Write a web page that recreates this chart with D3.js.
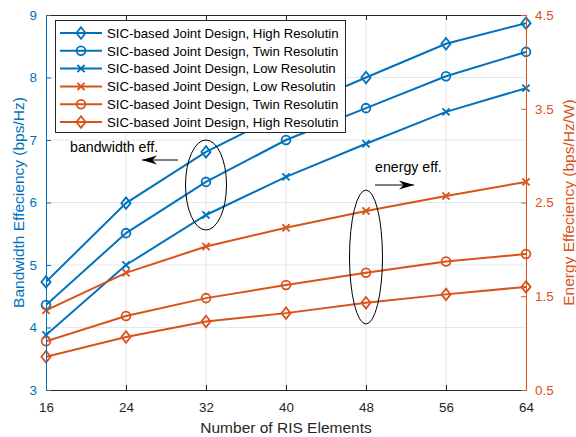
<!DOCTYPE html>
<html>
<head>
<meta charset="utf-8">
<script src="https://cdn.jsdelivr.net/npm/d3@7/dist/d3.min.js"></script>
<style>
  html, body { margin: 0; padding: 0; background: #fff; }
  svg { display: block; font-family: "Liberation Sans", Arial, Helvetica, sans-serif; }
</style>
</head>
<body>
<svg id="chart" width="576" height="437"></svg>
<script>
// Number of RIS elements
const elements = [16, 24, 32, 40, 48, 56, 64];

// Bandwidth efficiency (bps/Hz), left axis
const bwHigh = [4.73, 5.99, 6.81, 7.45, 8.00, 8.54, 8.87];
const bwTwin = [4.36, 5.51, 6.33, 7.00, 7.51, 8.02, 8.41];
const bwLow  = [3.88, 5.00, 5.80, 6.41, 6.94, 7.45, 7.83];

// Energy efficiency (bps/Hz/W), right axis
const eeLow  = [1.35, 1.75, 2.03, 2.23, 2.41, 2.57, 2.72];
const eeTwin = [1.02, 1.29, 1.48, 1.62, 1.75, 1.87, 1.95];
const eeHigh = [0.855, 1.065, 1.23, 1.32, 1.43, 1.52, 1.60];

const xTicks = [16, 24, 32, 40, 48, 56, 64];
const leftTicks = [3, 4, 5, 6, 7, 8, 9];
const rightTicks = [0.5, 1.5, 2.5, 3.5, 4.5];

const BLUE = "#0072BD", ORANGE = "#D95319", AXIS = "#262626";

const series = [
  { name: "SIC-based Joint Design, High Resolutin", values: bwHigh, axis: "left",  color: BLUE,   marker: "diamond" },
  { name: "SIC-based Joint Design, Twin Resolutin", values: bwTwin, axis: "left",  color: BLUE,   marker: "circle" },
  { name: "SIC-based Joint Design, Low Resolutin",  values: bwLow,  axis: "left",  color: BLUE,   marker: "cross" },
  { name: "SIC-based Joint Design, Low Resolutin",  values: eeLow,  axis: "right", color: ORANGE, marker: "cross" },
  { name: "SIC-based Joint Design, Twin Resolutin", values: eeTwin, axis: "right", color: ORANGE, marker: "circle" },
  { name: "SIC-based Joint Design, High Resolutin", values: eeHigh, axis: "right", color: ORANGE, marker: "diamond" }
];

const L = 46, R = 526, T = 15, B = 390;
const svg = d3.select("#chart");

const x = d3.scaleLinear().domain([16, 64]).range([L, R]);
const yL = d3.scaleLinear().domain([3, 9]).range([B, T]);
const yR = d3.scaleLinear().domain([0.5, 4.5]).range([B, T]);

// grid
const grid = svg.append("g");
grid.selectAll("line.v").data(xTicks.slice(1, -1)).join("line")
  .attr("x1", d => x(d)).attr("x2", d => x(d)).attr("y1", T).attr("y2", B)
  .attr("stroke", "#e3e3e3").attr("stroke-width", 1);
grid.selectAll("line.h").data(leftTicks.slice(1, -1)).join("line")
  .attr("x1", L).attr("x2", R).attr("y1", d => yL(d)).attr("y2", d => yL(d))
  .attr("stroke", "#dde9f4").attr("stroke-width", 1);

// markers
function markerPath(type) {
  if (type === "diamond") return "M0,-5.8L4.6,0L0,5.8L-4.6,0Z";
  if (type === "cross") return "M-3.6,-3.6L3.6,3.6M-3.6,3.6L3.6,-3.6";
  return d3.symbol(d3.symbolCircle, 60)();
}

svg.append("defs").append("clipPath").attr("id", "plot")
  .append("rect").attr("x", L).attr("y", T).attr("width", R - L).attr("height", B - T);

const plot = svg.append("g").attr("clip-path", "url(#plot)");
series.forEach(s => {
  const y = s.axis === "left" ? yL : yR;
  const line = d3.line().x((d, i) => x(elements[i])).y(d => y(d));
  plot.append("path").datum(s.values).attr("d", line)
    .attr("fill", "none").attr("stroke", s.color).attr("stroke-width", 2);
});
series.forEach(s => {
  const y = s.axis === "left" ? yL : yR;
  svg.append("g").selectAll("path").data(s.values).join("path")
    .attr("transform", (d, i) => `translate(${x(elements[i])},${y(d)})`)
    .attr("d", markerPath(s.marker))
    .attr("fill", "none").attr("stroke", s.color).attr("stroke-width", 1.8);
});

// axes
const fs = 13.4;
const xAxis = d3.axisBottom(x).tickValues(xTicks).tickSize(-5).tickPadding(12).tickFormat(d3.format("d"));
const gx = svg.append("g").attr("transform", `translate(0,${B})`).call(xAxis);
gx.select(".domain").attr("stroke", AXIS);
gx.selectAll(".tick line").attr("stroke", AXIS);
gx.selectAll(".tick text").attr("fill", AXIS).style("font-size", fs + "px").attr("font-family", null);

const xTop = d3.axisTop(x).tickValues(xTicks).tickSize(-5).tickFormat("");
const gt = svg.append("g").attr("transform", `translate(0,${T})`).call(xTop);
gt.select(".domain").attr("stroke", AXIS);
gt.selectAll(".tick line").attr("stroke", AXIS);

const gl = svg.append("g").attr("transform", `translate(${L},0)`)
  .call(d3.axisLeft(yL).tickValues(leftTicks).tickSize(-5).tickPadding(9).tickFormat(d3.format("d")));
gl.select(".domain").attr("stroke", BLUE);
gl.selectAll(".tick line").attr("stroke", BLUE);
gl.selectAll(".tick text").attr("fill", BLUE).style("font-size", fs + "px").attr("font-family", null);

const gr = svg.append("g").attr("transform", `translate(${R},0)`)
  .call(d3.axisRight(yR).tickValues(rightTicks).tickSize(-5).tickPadding(9).tickFormat(d3.format(".1f")));
gr.select(".domain").attr("stroke", ORANGE);
gr.selectAll(".tick line").attr("stroke", ORANGE);
gr.selectAll(".tick text").attr("fill", ORANGE).style("font-size", fs + "px").attr("font-family", null);

// axis titles
svg.append("text").attr("x", (L + R) / 2).attr("y", 433).attr("text-anchor", "middle")
  .attr("fill", AXIS).style("font-size", "15.5px").text("Number of RIS Elements");
svg.append("text").attr("transform", `translate(24,${(T + B) / 2}) rotate(-90)`).attr("text-anchor", "middle")
  .attr("fill", BLUE).style("font-size", "15.5px").text("Bandwidth Effeciency (bps/Hz)");
svg.append("text").attr("transform", `translate(574,${(T + B) / 2}) rotate(-90)`).attr("text-anchor", "middle")
  .attr("fill", ORANGE).style("font-size", "15.5px").text("Energy Effeciency (bps/Hz/W)");

// annotations: ellipses and arrows
svg.append("ellipse").attr("cx", x(32)).attr("cy", 185).attr("rx", 20.5).attr("ry", 45)
  .attr("fill", "none").attr("stroke", "#000").attr("stroke-width", 1);
svg.append("ellipse").attr("cx", x(48)).attr("cy", 257).attr("rx", 16.5).attr("ry", 67)
  .attr("fill", "none").attr("stroke", "#000").attr("stroke-width", 1);

function arrow(x1, y1, x2, y2) {
  svg.append("line").attr("x1", x1).attr("y1", y1).attr("x2", x2).attr("y2", y2)
    .attr("stroke", "#000").attr("stroke-width", 1);
  const dir = Math.sign(x2 - x1);
  const hl = 15, hw = 4.5;
  svg.append("path")
    .attr("d", `M${x2},${y2}L${x2 - dir * hl},${y2 - hw}L${x2 - dir * hl * 0.7},${y2}L${x2 - dir * hl},${y2 + hw}Z`)
    .attr("fill", "#000");
}
arrow(178, 160, 142, 160);
arrow(375, 185, 414, 185);

svg.append("text").attr("x", 70).attr("y", 152).attr("fill", "#000").style("font-size", "14.2px").text("bandwidth eff.");
svg.append("text").attr("x", 375).attr("y", 172).attr("fill", "#000").style("font-size", "14.2px").text("energy eff.");

// legend
const lg = svg.append("g");
lg.append("rect").attr("x", 55.5).attr("y", 20.5).attr("width", 290).attr("height", 112)
  .attr("fill", "#fff").attr("stroke", AXIS).attr("stroke-width", 1);
series.forEach((s, i) => {
  const cy = 33 + i * 17.8;
  lg.append("line").attr("x1", 60).attr("x2", 102).attr("y1", cy).attr("y2", cy)
    .attr("stroke", s.color).attr("stroke-width", 2);
  lg.append("path").attr("transform", `translate(81,${cy})`).attr("d", markerPath(s.marker))
    .attr("fill", "none").attr("stroke", s.color).attr("stroke-width", 1.8);
  lg.append("text").attr("x", 107).attr("y", cy + 4.8).attr("fill", "#000")
    .style("font-size", "13.2px").text(s.name);
});
</script>
</body>
</html>
